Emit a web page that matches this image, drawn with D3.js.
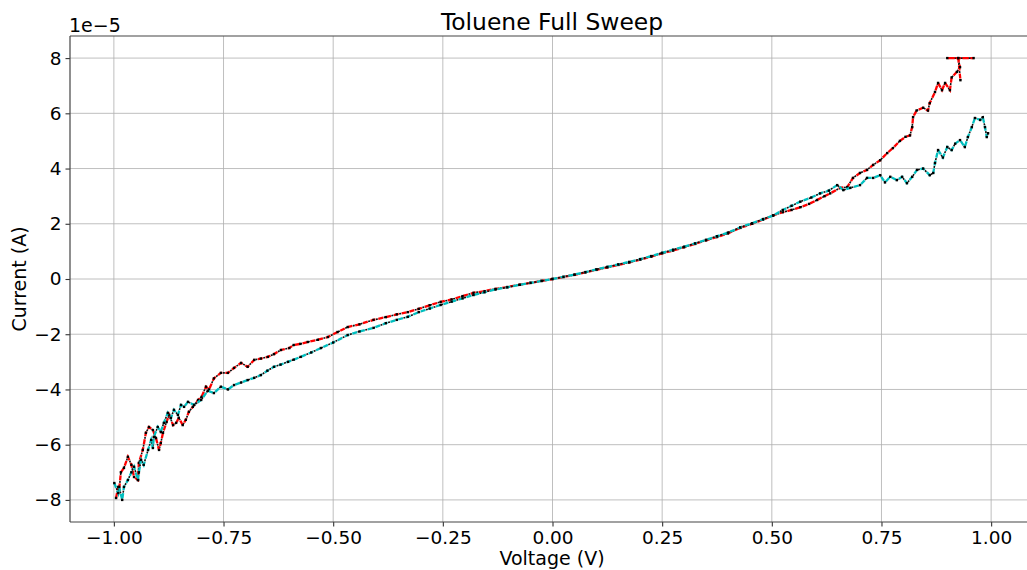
<!DOCTYPE html>
<html>
<head>
<meta charset="utf-8">
<script src="https://cdn.jsdelivr.net/npm/d3@7"></script>
<style>
  body { margin: 0; background: #fff; }
  svg { display: block; font-family: "DejaVu Sans", sans-serif; }
</style>
</head>
<body>
<svg id="chart" width="1027" height="570"></svg>
<script>
// sweep data, current in units of 1e-5 A
var redV = [-0.995,-0.99,-0.988,-0.984,-0.977,-0.968,-0.96,-0.954,-0.945,-0.943,-0.934,-0.927,-0.92,-0.911,-0.904,-0.897,-0.893,-0.888,-0.88,-0.874,-0.865,-0.858,-0.852,-0.843,-0.836,-0.829,-0.82,-0.808,-0.8,-0.79,-0.783,-0.772,-0.756,-0.74,-0.726,-0.71,-0.695,-0.68,-0.665,-0.649,-0.635,-0.619,-0.6,-0.59,-0.575,-0.558,-0.535,-0.512,-0.49,-0.467,-0.44,-0.408,-0.38,-0.355,-0.33,-0.305,-0.28,-0.255,-0.23,-0.205,-0.18,-0.155,-0.13,-0.103,-0.075,-0.05,-0.025,0,0.025,0.05,0.075,0.1,0.125,0.15,0.175,0.2,0.225,0.25,0.275,0.3,0.325,0.35,0.375,0.4,0.428,0.455,0.48,0.503,0.525,0.545,0.565,0.585,0.603,0.62,0.633,0.656,0.672,0.685,0.701,0.717,0.731,0.747,0.763,0.776,0.792,0.805,0.815,0.82,0.822,0.83,0.845,0.856,0.86,0.872,0.879,0.888,0.895,0.906,0.91,0.922,0.929,0.925,0.96,0.9,0.925,0.93];
var redI = [-7.93,-7.53,-7.64,-7.0,-6.84,-6.44,-6.73,-7.17,-7.28,-6.66,-6.19,-5.57,-5.36,-5.47,-5.76,-6.19,-5.94,-5.57,-5.18,-4.92,-5.29,-5.21,-5.03,-5.29,-5.1,-4.81,-4.63,-4.38,-4.27,-3.9,-4.0,-3.6,-3.4,-3.4,-3.22,-3.04,-3.18,-2.93,-2.88,-2.82,-2.72,-2.57,-2.5,-2.39,-2.35,-2.28,-2.2,-2.1,-1.92,-1.74,-1.64,-1.48,-1.38,-1.28,-1.2,-1.08,-0.95,-0.83,-0.74,-0.62,-0.5,-0.44,-0.36,-0.29,-0.21,-0.14,-0.07,0,0.07,0.15,0.24,0.33,0.42,0.51,0.6,0.7,0.81,0.93,1.03,1.15,1.27,1.4,1.52,1.65,1.85,2.0,2.15,2.3,2.42,2.5,2.6,2.72,2.86,3.0,3.1,3.3,3.33,3.66,3.84,3.95,4.13,4.3,4.56,4.74,5.0,5.15,5.2,5.5,5.86,6.1,6.2,6.1,6.37,6.77,7.1,6.84,7.1,6.84,7.3,7.5,7.67,8.0,8.0,8.0,8.0,7.2];

var cyanV = [-0.999,-0.99,-0.988,-0.981,-0.977,-0.968,-0.96,-0.954,-0.945,-0.943,-0.938,-0.932,-0.922,-0.915,-0.911,-0.909,-0.9,-0.893,-0.886,-0.877,-0.87,-0.863,-0.854,-0.847,-0.84,-0.831,-0.817,-0.801,-0.786,-0.772,-0.756,-0.74,-0.726,-0.71,-0.695,-0.68,-0.665,-0.65,-0.635,-0.62,-0.603,-0.59,-0.574,-0.55,-0.528,-0.5,-0.467,-0.44,-0.408,-0.38,-0.355,-0.33,-0.305,-0.28,-0.255,-0.23,-0.205,-0.18,-0.155,-0.13,-0.103,-0.075,-0.05,-0.025,0,0.025,0.05,0.075,0.1,0.125,0.15,0.175,0.2,0.225,0.25,0.275,0.3,0.325,0.35,0.375,0.4,0.428,0.455,0.48,0.503,0.525,0.545,0.565,0.59,0.61,0.63,0.649,0.663,0.679,0.701,0.717,0.731,0.747,0.758,0.77,0.785,0.797,0.808,0.82,0.831,0.845,0.86,0.868,0.872,0.879,0.89,0.9,0.91,0.918,0.929,0.94,0.947,0.956,0.963,0.975,0.981,0.986,0.99,0.993];
var cyanI = [-7.39,-7.75,-7.53,-8.0,-7.53,-7.28,-7.0,-6.8,-7.28,-7.0,-6.55,-6.73,-6.19,-5.83,-6.12,-5.72,-5.36,-5.54,-5.21,-4.85,-5.03,-4.74,-4.92,-4.56,-4.63,-4.45,-4.56,-4.38,-4.05,-4.13,-3.9,-4.0,-3.84,-3.75,-3.66,-3.58,-3.48,-3.32,-3.18,-3.1,-3.0,-2.92,-2.82,-2.66,-2.5,-2.3,-2.03,-1.9,-1.77,-1.6,-1.48,-1.37,-1.2,-1.07,-0.94,-0.82,-0.7,-0.58,-0.48,-0.38,-0.3,-0.21,-0.14,-0.07,0,0.08,0.16,0.25,0.35,0.44,0.53,0.62,0.72,0.83,0.95,1.06,1.17,1.29,1.42,1.55,1.68,1.87,2.02,2.17,2.3,2.5,2.65,2.8,2.95,3.1,3.2,3.4,3.22,3.3,3.4,3.66,3.66,3.76,3.5,3.7,3.58,3.7,3.47,3.7,3.95,4.0,3.76,3.84,4.2,4.67,4.4,4.78,4.67,4.9,5.03,4.78,5.14,5.5,5.83,5.76,5.86,5.5,5.14,5.28];

var xTicks = [-1.0, -0.75, -0.5, -0.25, 0, 0.25, 0.5, 0.75, 1.0];
var yTicks = [-8, -6, -4, -2, 0, 2, 4, 6, 8];

var svg = d3.select("#chart");
var mLeft = 70, mRight = 1035, mTop = 36, mBottom = 522;

var x = d3.scaleLinear().domain([-1.1, 1.1]).range([mLeft, mRight]);
var y = d3.scaleLinear().domain([-8.8, 8.8]).range([mBottom, mTop]);

// grid
svg.append("g").selectAll("line").data(xTicks).enter().append("line")
    .attr("x1", function(d) { return x(d); }).attr("x2", function(d) { return x(d); })
    .attr("y1", mTop).attr("y2", mBottom)
    .attr("stroke", "#b0b0b0").attr("stroke-width", 1).attr("opacity", 0.8);
svg.append("g").selectAll("line").data(yTicks).enter().append("line")
    .attr("y1", function(d) { return y(d); }).attr("y2", function(d) { return y(d); })
    .attr("x1", mLeft).attr("x2", mRight)
    .attr("stroke", "#b0b0b0").attr("stroke-width", 1).attr("opacity", 0.8);

function drawSweep(vs, is, color) {
  var pts = vs.map(function(v, i) { return [v, is[i]]; });
  var line = d3.line()
      .x(function(d) { return x(d[0]); })
      .y(function(d) { return y(d[1]); });
  // dark trace showing through the gaps of the dashes
  svg.append("path")
      .datum(pts)
      .attr("d", line)
      .attr("fill", "none")
      .attr("stroke", "#111")
      .attr("stroke-width", 1.6)
      .attr("stroke-dasharray", "2,6")
      .attr("stroke-dashoffset", -5.5);
  svg.append("path")
      .datum(pts)
      .attr("d", line)
      .attr("fill", "none")
      .attr("stroke", color)
      .attr("stroke-width", 2.3)
      .attr("stroke-dasharray", "5,3");
  svg.append("g").selectAll("rect").data(pts).enter().append("rect")
      .attr("x", function(d) { return x(d[0]) - 1.2; })
      .attr("y", function(d) { return y(d[1]) - 1.2; })
      .attr("width", 2.4).attr("height", 2.4)
      .attr("fill", "#000");
}

drawSweep(redV, redI, "#ff0000");
drawSweep(cyanV, cyanI, "#00bfbf");

// axes
var xAxis = d3.axisBottom(x).tickValues(xTicks).tickSize(4.5).tickPadding(4).tickFormat(d3.format(".2f"));
var yAxis = d3.axisLeft(y).tickValues(yTicks).tickSize(4.5).tickPadding(4).tickFormat(d3.format("d"));

var gx = svg.append("g").attr("transform", "translate(0," + mBottom + ")").call(xAxis);
var gy = svg.append("g").attr("transform", "translate(" + mLeft + ",0)").call(yAxis);
[gx, gy].forEach(function(g) {
  g.select(".domain").remove();
  g.selectAll(".tick line").attr("stroke", "#333").attr("stroke-width", 1.1);
  g.selectAll(".tick text").attr("fill", "#000").style("font-size", "18.5px")
      .style("font-family", "DejaVu Sans, sans-serif");
});

// spines
function spine(x1, y1, x2, y2) {
  svg.append("line").attr("x1", x1).attr("y1", y1).attr("x2", x2).attr("y2", y2)
      .attr("stroke", "#444").attr("stroke-width", 1.2);
}
spine(mLeft, mTop, mLeft, mBottom);
spine(mLeft, mBottom, mRight, mBottom);
spine(mLeft, mTop, mRight, mTop);
spine(mRight, mTop, mRight, mBottom);

// labels
svg.append("text").attr("x", 552).attr("y", 30)
    .attr("text-anchor", "middle").style("font-size", "23.4px").text("Toluene Full Sweep");
svg.append("text").attr("x", 69).attr("y", 32)
    .style("font-size", "19px").text("1e\u22125");
svg.append("text").attr("x", 552).attr("y", 565)
    .attr("text-anchor", "middle").style("font-size", "19px").text("Voltage (V)");
svg.append("text").attr("transform", "translate(26,279) rotate(-90)")
    .attr("text-anchor", "middle").style("font-size", "19px").text("Current (A)");
</script>
</body>
</html>
